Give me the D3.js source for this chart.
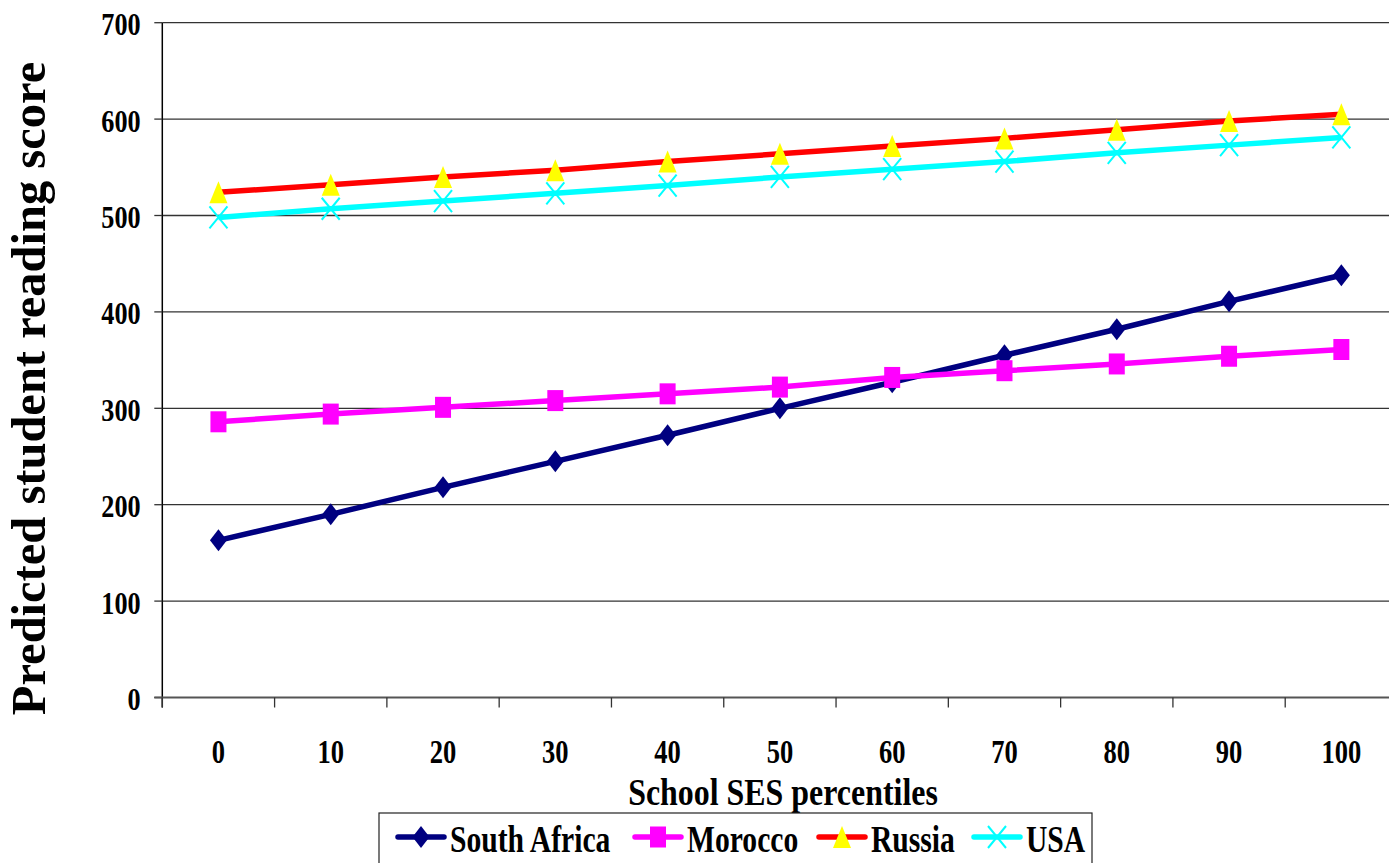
<!DOCTYPE html>
<html>
<head>
<meta charset="utf-8">
<script src="https://cdn.jsdelivr.net/npm/d3@7"></script>
<style>
  html, body { margin: 0; padding: 0; background: #fff; }
  svg { display: block; }
  text { font-family: "Liberation Serif", "Times New Roman", serif; font-weight: bold; fill: #000; }
</style>
</head>
<body>
<svg id="chart" width="1389" height="863"></svg>
<script>
// School SES percentile categories on the x axis
const percentiles = [0, 10, 20, 30, 40, 50, 60, 70, 80, 90, 100];

// Predicted reading score per country
const southAfrica = [163, 190, 218, 245, 272, 300, 327, 355, 382, 411, 438];
const morocco     = [286, 294, 301, 308, 315, 322, 332, 339, 346, 354, 361];
const russia      = [524, 532, 540, 547, 556, 564, 572, 580, 589, 598, 605];
const usa         = [498, 507, 515, 523, 531, 540, 548, 556, 565, 573, 581];

const countryNames = ["South Africa", "Morocco", "Russia", "USA"];
const yTicks = [0, 100, 200, 300, 400, 500, 600, 700];

const series = [
  { name: countryNames[0], values: southAfrica, line: "#000080", marker: "diamond" },
  { name: countryNames[1], values: morocco,     line: "#FF00FF", marker: "square" },
  { name: countryNames[2], values: russia,      line: "#FF0000", marker: "triangle" },
  { name: countryNames[3], values: usa,         line: "#00FFFF", marker: "cross" }
];

const svg = d3.select("#chart");
const plot = { left: 162.3, right: 1397.5, top: 22.7, bottom: 697.5 };

const x = d3.scaleBand().domain(percentiles).range([plot.left, plot.right]).padding(0);
const y = d3.scaleLinear().domain([0, 700]).range([plot.bottom, plot.top]);
const cx = d => x(d) + x.bandwidth() / 2;

// Condensed bold text helper
function label(g, px, py, str, size, sx, anchor) {
  return g.append("text")
    .attr("transform", `translate(${px},${py}) scale(${sx},1)`)
    .attr("text-anchor", anchor)
    .style("font-size", size + "px")
    .text(str);
}

// Horizontal gridlines
const grid = svg.append("g");
yTicks.filter(t => t > 0).forEach(t => {
  grid.append("line")
    .attr("x1", plot.left).attr("x2", plot.right)
    .attr("y1", y(t)).attr("y2", y(t))
    .attr("stroke", "#333").attr("stroke-width", 1.3);
});

// Y axis line, ticks and labels
const yAxis = svg.append("g");
yAxis.append("line")
  .attr("x1", plot.left).attr("x2", plot.left)
  .attr("y1", plot.top).attr("y2", plot.bottom + 10)
  .attr("stroke", "#000").attr("stroke-width", 1.5);
yTicks.forEach(t => {
  yAxis.append("line")
    .attr("x1", plot.left - 8).attr("x2", plot.left)
    .attr("y1", y(t)).attr("y2", y(t))
    .attr("stroke", "#333").attr("stroke-width", 1.3);
  label(yAxis, 140.7, y(t) + 12.5, String(t), 32, 0.82, "end");
});

// X axis line, boundary ticks and category labels
const xAxis = svg.append("g");
xAxis.append("line")
  .attr("x1", plot.left - 8).attr("x2", plot.right)
  .attr("y1", plot.bottom).attr("y2", plot.bottom)
  .attr("stroke", "#555").attr("stroke-width", 2);
const boundaries = percentiles.map(p => x(p)).concat([x(percentiles[percentiles.length - 1]) + x.bandwidth()]);
boundaries.forEach(bx => {
  xAxis.append("line")
    .attr("x1", bx).attr("x2", bx)
    .attr("y1", plot.bottom).attr("y2", plot.bottom + 10)
    .attr("stroke", "#333").attr("stroke-width", 1.3);
});
percentiles.forEach(p => {
  label(xAxis, cx(p), 763, String(p), 34, 0.78, "middle");
});

// Axis titles
label(svg, 783, 805, "School SES percentiles", 38, 0.84, "middle");
svg.append("text")
  .attr("transform", "translate(45,388.5) rotate(-90)")
  .attr("text-anchor", "middle")
  .style("font-size", "48.5px")
  .text("Predicted student reading score");

// Marker shapes
function drawMarker(g, shape, px, py) {
  if (shape === "diamond") {
    g.append("path")
      .attr("d", `M${px},${py - 11}L${px + 8.5},${py}L${px},${py + 11}L${px - 8.5},${py}Z`)
      .attr("fill", "#000080");
  } else if (shape === "square") {
    g.append("rect")
      .attr("x", px - 8).attr("y", py - 10.5).attr("width", 16).attr("height", 21)
      .attr("fill", "#FF00FF");
  } else if (shape === "triangle") {
    g.append("path")
      .attr("d", `M${px},${py - 11}L${px + 9},${py + 11}L${px - 9},${py + 11}Z`)
      .attr("fill", "#FFFF00");
  } else {
    g.append("path")
      .attr("d", `M${px - 9},${py - 11}L${px + 9},${py + 11}M${px + 9},${py - 11}L${px - 9},${py + 11}`)
      .attr("stroke", "#00FFFF").attr("stroke-width", 2).attr("fill", "none");
  }
}

// Series lines, then markers on top
const lineGen = d3.line().x((d, i) => cx(percentiles[i])).y(d => y(d));
const lines = svg.append("g");
series.forEach(s => {
  lines.append("path")
    .attr("d", lineGen(s.values))
    .attr("fill", "none")
    .attr("stroke", s.line)
    .attr("stroke-width", 5.5)
    .attr("stroke-linejoin", "round");
});
const marks = svg.append("g");
series.forEach(s => {
  s.values.forEach((v, i) => drawMarker(marks, s.marker, cx(percentiles[i]), y(v)));
});

// Legend
const legend = svg.append("g");
legend.append("rect")
  .attr("x", 379).attr("y", 813).attr("width", 713).attr("height", 70)
  .attr("fill", "#fff").attr("stroke", "#222").attr("stroke-width", 1.2);
const legendX = [398, 635, 819, 974];
series.forEach((s, i) => {
  const lx = legendX[i];
  const ly = 837;
  legend.append("line")
    .attr("x1", lx).attr("x2", lx + 46)
    .attr("y1", ly).attr("y2", ly)
    .attr("stroke", s.line).attr("stroke-width", 5.5).attr("stroke-linecap", "round");
  drawMarker(legend, s.marker, lx + 23, ly);
  label(legend, lx + 52, 852, s.name, 37, 0.8, "start");
});
</script>
</body>
</html>
